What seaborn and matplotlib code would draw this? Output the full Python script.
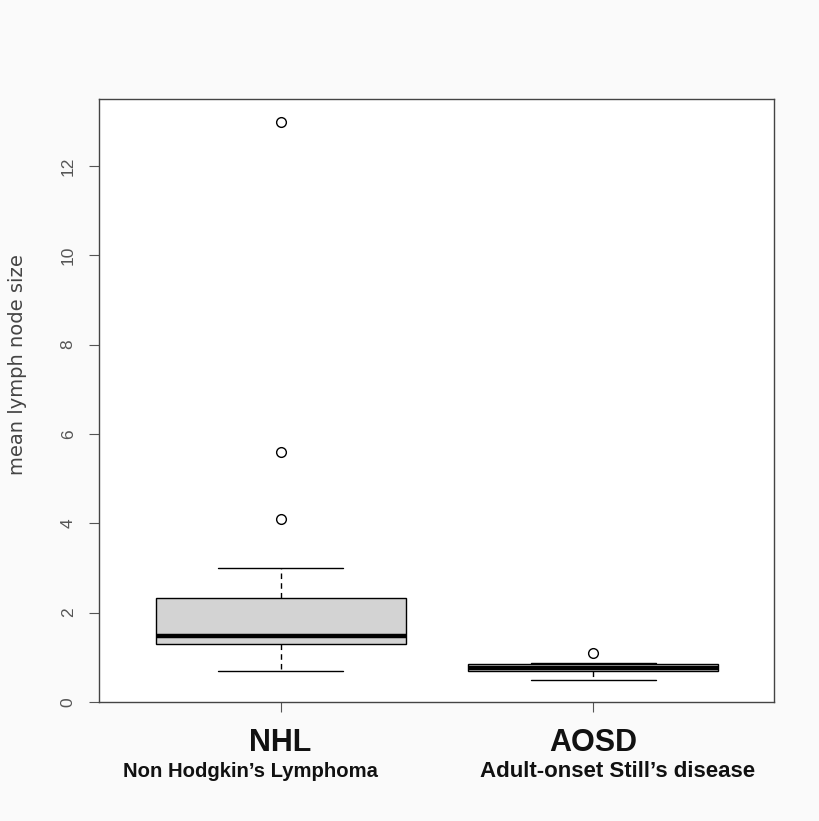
#!/usr/bin/env python3
import matplotlib
matplotlib.use("Agg")
import seaborn as sns
sns.set_theme(style='white', context='paper')
import pandas as pd
import matplotlib.pyplot as plt
import matplotlib.transforms as mtransforms

plt.rcParams['font.family'] = ['Liberation Sans', 'DejaVu Sans']

# values
groups = ['NHL', 'AOSD']
group_names = ["Non Hodgkin\u2019s Lymphoma", "Adult-onset Still\u2019s disease"]
# lower whisker, Q1, median, Q3, upper whisker
nhl_stats = [0.69, 1.29, 1.48, 2.33, 2.99]
nhl_outliers = [4.10, 5.60, 12.98]
aosd_stats = [0.49, 0.69, 0.76, 0.84, 0.88]
aosd_outliers = [1.10]
yticks = [0, 2, 4, 6, 8, 10, 12]


def sample_from_stats(stats, outliers, k):
    # repeat the quartiles so the boxplot computes exactly the read values
    lo, q1, med, q3, hi = stats
    return [lo] + [q1] * k + [med] * k + [q3] * k + [hi] + outliers


nhl_vals = sample_from_stats(nhl_stats, nhl_outliers, 4)       # n = 17
aosd_vals = sample_from_stats(aosd_stats, aosd_outliers, 3) + [aosd_stats[4]]  # n = 13

df = pd.DataFrame({
    'group': [groups[0]] * len(nhl_vals) + [groups[1]] * len(aosd_vals),
    'size': nhl_vals + aosd_vals,
})

fig = plt.figure(figsize=(8.2, 8.21), dpi=100, facecolor='#fafafa')
ax = fig.add_axes([99.3 / 820, 119 / 821, 675 / 820, 603 / 821])
ax.set_facecolor('white')

sns.boxplot(data=df, x='group', y='size', order=groups, ax=ax,
            color='#d3d3d3', saturation=1, width=0.8, whis=1.5,
            linecolor='black', linewidth=1,
            medianprops={'color': 'black', 'linewidth': 3.2},
            whiskerprops={'linestyle': (0, (4, 3))},
            capprops={'linestyle': '-'},
            flierprops={'marker': 'o', 'markerfacecolor': 'none',
                        'markeredgecolor': 'black', 'markersize': 7,
                        'markeredgewidth': 1})

ax.set_xlim(-0.58, 1.58)
ax.set_ylim(0, 13.5)
ax.set_yticks(yticks)
ax.set_yticklabels([str(t) for t in yticks], fontsize=12.5, color='#555555')
ax.tick_params(axis='y', labelrotation=90, length=7, width=0.8,
               color='#555555', pad=10, left=True)
ax.tick_params(axis='x', length=7, width=0.8, color='#555555',
               bottom=True, labelbottom=False)
for lbl in ax.get_yticklabels():
    lbl.set_va('center')
ax.set_xlabel('')
ax.set_ylabel('')
for sp in ax.spines.values():
    sp.set_visible(True)
    sp.set_color('#444444')
    sp.set_linewidth(1)

fig.text(0.021, 1 - 365 / 821, 'mean lymph node size', rotation=90,
         ha='center', va='center', fontsize=14, color='#444444',
         family=['DejaVu Sans'])

trans = mtransforms.blended_transform_factory(ax.transData, fig.transFigure)
name_x = [-0.095, 1.08]
name_size = [14.6, 16]
for i, g in enumerate(groups):
    ax.text(i, (821 - 751) / 821, g, transform=trans, ha='center',
            va='baseline', fontsize=22, fontweight='bold', color='#111111')
    ax.text(name_x[i], (821 - 777) / 821, group_names[i], transform=trans,
            ha='center', va='baseline', fontsize=name_size[i],
            fontweight='bold', color='#111111')

fig.savefig('out.png', dpi=100, facecolor=fig.get_facecolor())
